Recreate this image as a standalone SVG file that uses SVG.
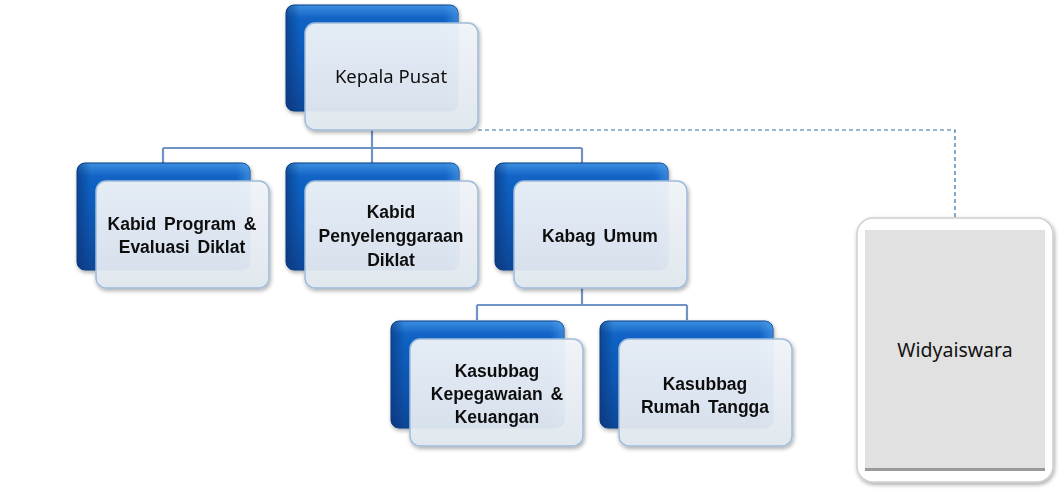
<svg xmlns="http://www.w3.org/2000/svg" width="1064" height="494" viewBox="0 0 1064 494">
<defs>
<linearGradient id="blue" x1="0" y1="0" x2="0" y2="1">
<stop offset="0" stop-color="#3d8fe0"/>
<stop offset="0.12" stop-color="#1264c6"/>
<stop offset="0.6" stop-color="#0b55b0"/>
<stop offset="1" stop-color="#0a4696"/>
</linearGradient>
<linearGradient id="blueSide" x1="0" y1="0" x2="1" y2="0">
<stop offset="0" stop-color="#06306e" stop-opacity="0.55"/>
<stop offset="0.08" stop-color="#06306e" stop-opacity="0"/>
<stop offset="0.92" stop-color="#5aa8f0" stop-opacity="0"/>
<stop offset="1" stop-color="#5aa8f0" stop-opacity="0.5"/>
</linearGradient>
<linearGradient id="front" x1="0" y1="0" x2="0" y2="1">
<stop offset="0" stop-color="#f2f5f9"/>
<stop offset="1" stop-color="#e1e8f0"/>
</linearGradient>
<filter id="shadow" x="-10%" y="-10%" width="125%" height="130%">
<feGaussianBlur in="SourceAlpha" stdDeviation="2"/>
<feOffset dx="1" dy="2" result="b"/>
<feComponentTransfer><feFuncA type="linear" slope="0.35"/></feComponentTransfer>
<feMerge><feMergeNode/><feMergeNode in="SourceGraphic"/></feMerge>
</filter>
</defs>
<style>
.back{fill:url(#blue);stroke:#0a3f88;stroke-width:1}
.side{fill:url(#blueSide)}
.front{fill:url(#front);fill-opacity:0.94;stroke:#9fbcdb;stroke-width:1.5}
.lbl{font-family:"Liberation Sans","Open Sans",sans-serif;font-size:17.5px;font-weight:bold;fill:#111;text-anchor:middle;word-spacing:3px}
.reg{font-family:"Noto Sans","Open Sans",sans-serif;font-size:18.5px;fill:#111;text-anchor:middle}
.conn{fill:none;stroke:#6f93c4;stroke-width:2.2}
.dash{fill:none;stroke:#2e6fa8;stroke-width:1.2;stroke-dasharray:4 3}
</style>
<g id="connectors">
<path class="conn" d="M372 130 V148 M163 148 H582 M163 148 V163 M372 148 V163 M582 148 V163"/>
<path class="conn" d="M582 288 V305 M477 305 H687 M477 305 V320 M687 305 V320"/>
<path class="dash" d="M478 130 H955 V230"/>
</g>
<g id="node-kepala" filter="url(#shadow)">
<rect class="back" x="286" y="5" width="172" height="106" rx="8"/>
<rect class="side" x="286" y="5" width="172" height="106" rx="8"/>
<rect class="front" x="305" y="23" width="173" height="107" rx="10"/>
<text class="reg" x="391" y="83">Kepala Pusat</text>
</g>
<g id="node-kabid-program" filter="url(#shadow)">
<rect class="back" x="77" y="163" width="173" height="107" rx="8"/>
<rect class="side" x="77" y="163" width="173" height="107" rx="8"/>
<rect class="front" x="96" y="181" width="173" height="107" rx="10"/>
<text class="lbl" x="182" y="230">Kabid Program &amp;</text>
<text class="lbl" x="182" y="253">Evaluasi Diklat</text>
</g>
<g id="node-kabid-penyelenggaraan" filter="url(#shadow)">
<rect class="back" x="286" y="163" width="173" height="107" rx="8"/>
<rect class="side" x="286" y="163" width="173" height="107" rx="8"/>
<rect class="front" x="305" y="181" width="173" height="107" rx="10"/>
<text class="lbl" x="391" y="218">Kabid</text>
<text class="lbl" x="391" y="242">Penyelenggaraan</text>
<text class="lbl" x="391" y="266">Diklat</text>
</g>
<g id="node-kabag-umum" filter="url(#shadow)">
<rect class="back" x="495" y="163" width="173" height="107" rx="8"/>
<rect class="side" x="495" y="163" width="173" height="107" rx="8"/>
<rect class="front" x="514" y="181" width="173" height="107" rx="10"/>
<text class="lbl" x="600" y="242">Kabag Umum</text>
</g>
<g id="node-kasubbag-kepegawaian" filter="url(#shadow)">
<rect class="back" x="391" y="321" width="173" height="107" rx="8"/>
<rect class="side" x="391" y="321" width="173" height="107" rx="8"/>
<rect class="front" x="410" y="339" width="173" height="107" rx="10"/>
<text class="lbl" x="497" y="377">Kasubbag</text>
<text class="lbl" x="497" y="400">Kepegawaian &amp;</text>
<text class="lbl" x="497" y="423">Keuangan</text>
</g>
<g id="node-kasubbag-rumah" filter="url(#shadow)">
<rect class="back" x="600" y="321" width="173" height="107" rx="8"/>
<rect class="side" x="600" y="321" width="173" height="107" rx="8"/>
<rect class="front" x="619" y="339" width="173" height="107" rx="10"/>
<text class="lbl" x="705" y="390">Kasubbag</text>
<text class="lbl" x="705" y="413">Rumah Tangga</text>
</g>
<g id="node-widyaiswara">
<rect x="857" y="218" width="196" height="264" rx="16" fill="#ffffff" stroke="#cfcfcf" stroke-width="1.5" filter="url(#shadow)"/>
<rect x="865" y="230" width="180" height="238" fill="#e1e1e1"/>
<rect x="865" y="468" width="180" height="3" fill="#9a9a9a"/>
<text class="reg" x="955" y="357" style="font-size:19.5px">Widyaiswara</text>
</g>
</svg>
